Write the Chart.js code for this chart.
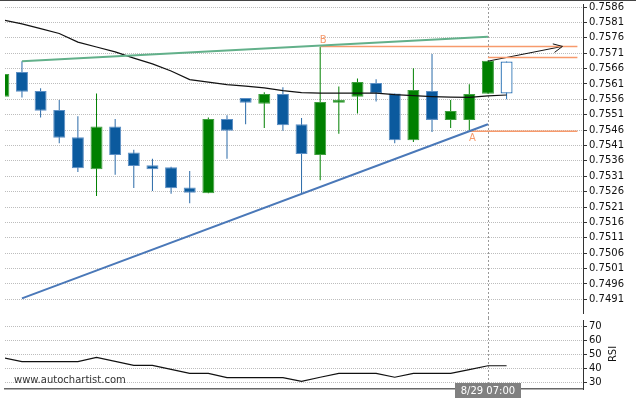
<!DOCTYPE html>
<html>
<head>
<meta charset="utf-8">
<script src="https://cdn.jsdelivr.net/npm/chart.js@4.4.1/dist/chart.umd.min.js"></script>
<style>
  html, body { margin: 0; padding: 0; background: #fff; }
  #wrap { position: relative; width: 636px; height: 398px; overflow: hidden; }
  #priceChart { position: absolute; left: 0; top: 0; }
  #rsiChart { position: absolute; left: 0; top: 318px; }
  #topLine { position: absolute; left: 0; top: 0; width: 636px; height: 1px; background: #444; }
</style>
</head>
<body>
<div id="wrap">
  <canvas id="priceChart" width="636" height="318"></canvas>
  <canvas id="rsiChart" width="636" height="80"></canvas>
  <div id="topLine"></div>
</div>
<script>
// 蜡烛数据 (index 0..26)
const opens  = [0.75568, 0.75649, 0.75587, 0.75525, 0.75437, 0.75333, 0.75472, 0.75387, 0.75346, 0.75339, 0.75273, 0.75255, 0.75496, 0.75564, 0.75546, 0.75577, 0.75479, 0.75379, 0.75549, 0.75568, 0.75613, 0.75579, 0.75427, 0.75587, 0.75493, 0.75493, 0.75578];
const highs  = [0.75644, 0.75684, 0.75596, 0.75558, 0.75505, 0.75579, 0.75496, 0.75396, 0.75367, 0.75341, 0.75327, 0.75501, 0.75508, 0.75564, 0.75583, 0.75599, 0.75499, 0.75731, 0.75602, 0.75628, 0.75625, 0.75579, 0.75661, 0.75707, 0.75558, 0.75609, 0.75686];
const lows   = [0.75566, 0.75566, 0.75501, 0.75417, 0.75324, 0.75246, 0.75315, 0.75272, 0.75262, 0.75253, 0.75222, 0.75255, 0.75367, 0.75479, 0.75467, 0.75458, 0.75252, 0.75297, 0.75448, 0.75514, 0.75553, 0.75417, 0.75421, 0.75454, 0.75467, 0.75454, 0.75578];
const closes = [0.75642, 0.75585, 0.75523, 0.75435, 0.75336, 0.75472, 0.75379, 0.75343, 0.75333, 0.75271, 0.75256, 0.75496, 0.75458, 0.75549, 0.75577, 0.75476, 0.75382, 0.75551, 0.75559, 0.75616, 0.75579, 0.75427, 0.75590, 0.75493, 0.75522, 0.75577, 0.75685];

// 预测蜡烛 (index 27)
const forecastIndex = 27;
const forecastOHLC = [0.75579, 0.75683, 0.75560, 0.75683]; // open, high, low, close

// 均线 + RSI (index 0..27)
const maValues  = [0.75818, 0.75805, 0.75790, 0.75774, 0.75746, 0.75730, 0.75714, 0.75694, 0.75675, 0.75652, 0.75624, 0.75616, 0.75608, 0.75603, 0.75597, 0.75588, 0.75582, 0.75580, 0.75580, 0.75580, 0.75580, 0.75575, 0.75572, 0.75569, 0.75567, 0.75566, 0.75571, 0.75574];
const rsiValues = [47.4, 44.5, 44.5, 44.5, 44.5, 47.6, 44.8, 41.9, 41.9, 39.0, 36.2, 36.2, 33.1, 33.1, 33.1, 33.1, 30.5, 33.4, 36.2, 36.2, 36.2, 33.4, 36.2, 36.2, 36.2, 38.9, 41.6, 41.6];

// 形态线
const upperTrendX = [1, 26];
const upperTrendY = [0.75684, 0.75763];
const lowerTrendX = [1, 26];
const lowerTrendY = [0.74913, 0.75479];
const arrowX = [26, 30];
const arrowY = [0.75684, 0.75732];
const levelB = { from: 17, to: 30.8, value: 0.75732 };
const levelTarget = { from: 26, to: 30.8, value: 0.75696 };
const levelA = { from: 25, to: 30.8, value: 0.75456 };
const pointLabels = [
  { text: 'B', x: 17, y: 0.75732, below: false },
  { text: 'A', x: 25, y: 0.75456, below: true }
];

// 坐标轴
const priceTicks = [0.7491, 0.7496, 0.7501, 0.7506, 0.7511, 0.7516, 0.7521, 0.7526, 0.7531, 0.7536, 0.7541, 0.7546, 0.7551, 0.7556, 0.7561, 0.7566, 0.7571, 0.7576, 0.7581, 0.7586];
const rsiTicks = [30, 40, 50, 60, 70];
const currentIndex = 26;
const currentLabel = '8/29 07:00';

const GREEN = '#008000';
const BLUE = '#0b5a9e';
const ORANGE = '#f79a6c';

Chart.defaults.font.family = 'DejaVu Sans';
Chart.defaults.font.size = 10;
Chart.defaults.color = '#111';

const xRange = { min: 0.09, max: 31.1 };

function pts(xs, ys) {
  return xs.map((x, i) => ({ x: x, y: ys[i] }));
}

const isUp = opens.map((o, i) => closes[i] >= o);

// 虚线（当前时间）
const dashedLine = {
  id: 'dashedLine',
  beforeDatasetsDraw(chart, args, opts) {
    const { ctx, scales: { x } } = chart;
    const px = Math.round(x.getPixelForValue(currentIndex)) + 0.5;
    ctx.save();
    ctx.strokeStyle = '#999';
    ctx.lineWidth = 1;
    ctx.setLineDash([2, 2]);
    ctx.beginPath();
    ctx.moveTo(px, opts.top);
    ctx.lineTo(px, opts.bottom);
    ctx.stroke();
    ctx.restore();
  }
};

// 箭头和 A/B 标签
const priceOverlay = {
  id: 'priceOverlay',
  afterDatasetsDraw(chart) {
    const { ctx, scales: { x, y } } = chart;
    const x1 = x.getPixelForValue(arrowX[0]), y1 = y.getPixelForValue(arrowY[0]);
    const x2 = x.getPixelForValue(arrowX[1]), y2 = y.getPixelForValue(arrowY[1]);
    const ang = Math.atan2(y2 - y1, x2 - x1);
    const len = 10;
    ctx.save();
    ctx.strokeStyle = '#111';
    ctx.lineWidth = 1;
    ctx.beginPath();
    ctx.moveTo(x2 - len * Math.cos(ang - 0.45), y2 - len * Math.sin(ang - 0.45));
    ctx.lineTo(x2, y2);
    ctx.lineTo(x2 - len * Math.cos(ang + 0.45), y2 - len * Math.sin(ang + 0.45));
    ctx.stroke();

    ctx.fillStyle = ORANGE;
    ctx.font = '10px "DejaVu Sans"';
    ctx.textAlign = 'center';
    pointLabels.forEach(l => {
      const px = x.getPixelForValue(l.x) + 3;
      const py = y.getPixelForValue(l.y);
      ctx.textBaseline = l.below ? 'top' : 'bottom';
      ctx.fillText(l.text, px, l.below ? py + 2 : py - 1);
    });
    ctx.restore();
  }
};

// RSI 面板文字
const rsiOverlay = {
  id: 'rsiOverlay',
  afterDraw(chart) {
    const { ctx, scales: { x } } = chart;
    const px = x.getPixelForValue(currentIndex);
    ctx.save();
    ctx.fillStyle = '#333';
    ctx.font = '10px "DejaVu Sans"';
    ctx.textBaseline = 'middle';
    ctx.textAlign = 'left';
    ctx.fillText('www.autochartist.com', 14, 62);

    ctx.fillStyle = '#808080';
    ctx.fillRect(Math.round(px - 33), 65, 66, 15);
    ctx.fillStyle = '#fff';
    ctx.textAlign = 'center';
    ctx.fillText(currentLabel, px, 73);

    ctx.fillStyle = '#111';
    ctx.translate(613, 36);
    ctx.rotate(-Math.PI / 2);
    ctx.fillText('RSI', 0, 0);
    ctx.restore();
  }
};

function fixY(width) {
  return function(scale) {
    scale.width = width;
    scale.paddingTop = 0;
    scale.paddingBottom = 0;
  };
}

function levelLine(l) {
  return {
    type: 'line',
    data: [{ x: l.from, y: l.value }, { x: l.to, y: l.value }],
    borderColor: ORANGE,
    borderWidth: 1.5,
    pointRadius: 0,
    order: 0
  };
}

// 主图
new Chart(document.getElementById('priceChart'), {
  type: 'bar',
  data: {
    datasets: [
      {
        type: 'line',
        data: pts(upperTrendX, upperTrendY),
        borderColor: '#62b08a',
        borderWidth: 2,
        pointRadius: 0,
        order: 0
      },
      {
        type: 'line',
        data: pts(lowerTrendX, lowerTrendY),
        borderColor: '#4a78b8',
        borderWidth: 2,
        pointRadius: 0,
        order: 0
      },
      {
        type: 'line',
        data: maValues.map((v, i) => ({ x: i, y: v })),
        borderColor: '#111',
        borderWidth: 1.2,
        pointRadius: 0,
        tension: 0,
        order: 0
      },
      levelLine(levelB),
      levelLine(levelTarget),
      levelLine(levelA),
      {
        type: 'line',
        data: pts(arrowX, arrowY),
        borderColor: '#111',
        borderWidth: 1,
        pointRadius: 0,
        order: 0
      },
      // 实体
      {
        data: opens.map((o, i) => ({ x: i, y: [o, closes[i]] })),
        backgroundColor: isUp.map(u => u ? GREEN : BLUE),
        borderColor: isUp.map(u => u ? '#3f9f3f' : '#5c8fc4'),
        borderWidth: 1,
        borderSkipped: false,
        grouped: false,
        maxBarThickness: 12,
        order: 1
      },
      // 影线
      {
        data: highs.map((h, i) => ({ x: i, y: [lows[i], h] })),
        backgroundColor: isUp.map(u => u ? GREEN : '#2a6aa8'),
        borderWidth: 0,
        grouped: false,
        maxBarThickness: 1,
        order: 2
      },
      // 预测蜡烛
      {
        data: [{ x: forecastIndex, y: [forecastOHLC[0], forecastOHLC[3]] }],
        backgroundColor: '#fff',
        borderColor: '#2a72b5',
        borderWidth: 1.3,
        borderSkipped: false,
        grouped: false,
        maxBarThickness: 12,
        order: 1
      },
      {
        data: [{ x: forecastIndex, y: [forecastOHLC[2], forecastOHLC[1]] }],
        backgroundColor: '#2a72b5',
        borderWidth: 0,
        grouped: false,
        maxBarThickness: 1,
        order: 2
      }
    ]
  },
  options: {
    responsive: false,
    animation: false,
    layout: { padding: { left: 5, top: 4, right: 0, bottom: 5 } },
    plugins: {
      legend: { display: false },
      tooltip: { enabled: false },
      dashedLine: { top: 4, bottom: 318 }
    },
    scales: {
      x: {
        type: 'linear',
        min: xRange.min,
        max: xRange.max,
        offset: false,
        display: false
      },
      y: {
        position: 'right',
        min: 0.748655,
        max: 0.758698,
        afterBuildTicks: s => { s.ticks = priceTicks.map(v => ({ value: v })); },
        afterFit: fixY(53),
        ticks: {
          autoSkip: false,
          padding: 2,
          color: '#111',
          callback: v => v.toFixed(4)
        },
        grid: { color: '#bdbdbd', tickLength: 4, tickColor: '#333', tickBorderDash: [] },
        border: { display: true, color: '#333', width: 1, dash: [1, 1] }
      }
    }
  },
  plugins: [dashedLine, priceOverlay]
});

// RSI 图
new Chart(document.getElementById('rsiChart'), {
  type: 'line',
  data: {
    datasets: [{
      data: rsiValues.map((v, i) => ({ x: i, y: v })),
      borderColor: '#111',
      borderWidth: 1.2,
      pointRadius: 0,
      tension: 0
    }]
  },
  options: {
    responsive: false,
    animation: false,
    layout: { padding: { left: 5, top: 2, right: 0, bottom: 9 } },
    plugins: {
      legend: { display: false },
      tooltip: { enabled: false },
      dashedLine: { top: 0, bottom: 65 }
    },
    scales: {
      x: {
        type: 'linear',
        min: xRange.min,
        max: xRange.max,
        ticks: { display: false },
        grid: { display: false },
        border: { display: true, color: '#666', width: 1.5 },
        afterFit: s => { s.height = 0; s.paddingLeft = 0; s.paddingRight = 0; }
      },
      y: {
        position: 'right',
        min: 25,
        max: 74.3,
        afterBuildTicks: s => { s.ticks = rsiTicks.map(v => ({ value: v })); },
        afterFit: fixY(53),
        ticks: { autoSkip: false, padding: 2, color: '#111' },
        grid: { color: '#bdbdbd', tickLength: 4, tickColor: '#333', tickBorderDash: [] },
        border: { display: true, color: '#333', width: 1, dash: [1, 1] }
      }
    }
  },
  plugins: [dashedLine, rsiOverlay]
});
</script>
</body>
</html>
